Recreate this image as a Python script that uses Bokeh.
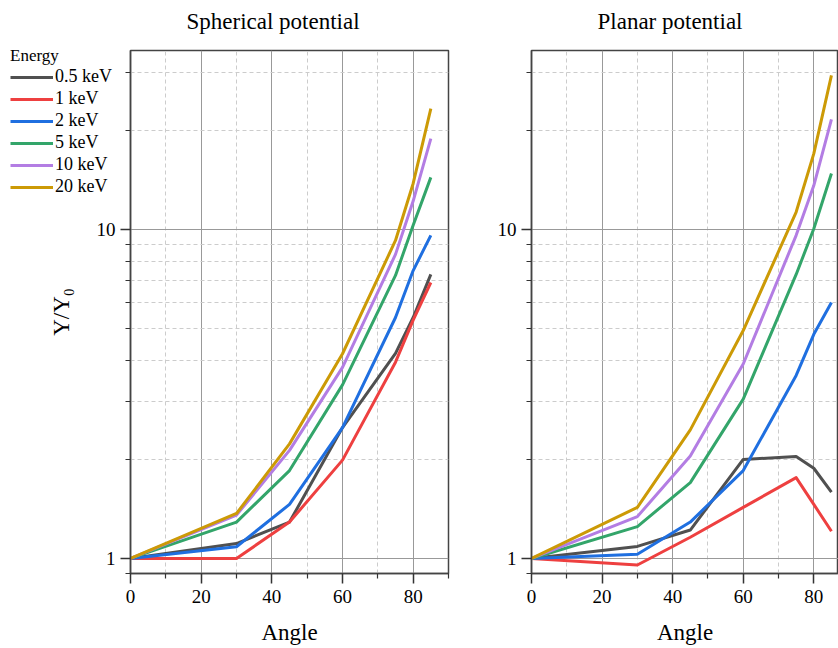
from bokeh.plotting import figure
from bokeh.layouts import column
from bokeh.models import (Range1d, FixedTicker, Legend, LegendItem, GridBox,
                          BasicTickFormatter, Title)
from bokeh.embed import file_html
from bokeh.resources import INLINE

angles = [0, 30, 45, 60, 75, 80, 85]
energies = ["0.5 keV", "1 keV", "2 keV", "5 keV", "10 keV", "20 keV"]
colors = ["#505050", "#ee4040", "#1f6fe0", "#33a56a", "#b37de3", "#cc9a06"]

spherical = {
    "0.5 keV": [1.0, 1.11, 1.29, 2.50, 4.20, 5.40, 7.30],
    "1 keV":   [1.0, 1.00, 1.29, 1.99, 3.95, 5.30, 6.90],
    "2 keV":   [1.0, 1.085, 1.46, 2.50, 5.40, 7.50, 9.60],
    "5 keV":   [1.0, 1.29, 1.85, 3.37, 7.25, 10.3, 14.4],
    "10 keV":  [1.0, 1.355, 2.13, 3.81, 8.40, 12.2, 18.9],
    "20 keV":  [1.0, 1.37, 2.23, 4.19, 9.26, 13.8, 23.3],
}
planar = {
    "0.5 keV": [1.0, 1.088, 1.22, 2.00, 2.04, 1.88, 1.59],
    "1 keV":   [1.0, 0.955, 1.16, 1.43, 1.76, 1.46, 1.21],
    "2 keV":   [1.0, 1.03, 1.29, 1.85, 3.60, 4.80, 6.00],
    "5 keV":   [1.0, 1.25, 1.70, 3.05, 7.30, 10.05, 14.8],
    "10 keV":  [1.0, 1.34, 2.05, 3.90, 9.60, 13.6, 21.6],
    "20 keV":  [1.0, 1.43, 2.46, 4.93, 11.3, 17.0, 29.4],
}

x_major = [0, 20, 40, 60, 80]
x_minor = [10, 30, 50, 70, 90]
y_major = [1, 10]
y_minor = [0.9, 2, 3, 4, 5, 6, 7, 8, 9, 20, 30]

FONT = "Liberation Serif"


def make_panel(title, title_offset, data, width, border_left, border_right,
               x_end, ylabel):
    p = figure(width=width, height=648, y_axis_type="log", title=None,
               x_range=Range1d(0, x_end), y_range=Range1d(0.9, 35),
               output_backend="svg", toolbar_location=None,
               min_border_left=border_left, min_border_right=border_right,
               min_border_top=50, min_border_bottom=75)
    # small spacer between frame and title, then the title itself
    p.add_layout(Title(text=" ", text_font_size="9px", standoff=0), "above")
    p.add_layout(Title(text=title, align="left", offset=title_offset,
                       text_font=FONT, text_font_size="23px",
                       text_font_style="normal", text_color="black"), "above")
    p.outline_line_color = "#444444"
    p.outline_line_width = 1.5

    p.xaxis.ticker = FixedTicker(ticks=x_major, minor_ticks=x_minor)
    p.yaxis.ticker = FixedTicker(ticks=y_major, minor_ticks=y_minor)
    p.yaxis.formatter = BasicTickFormatter()
    for ax in (p.xaxis, p.yaxis):
        ax.axis_line_color = "#444444"
        ax.axis_line_width = 1.5
        ax.major_tick_line_color = "#333333"
        ax.major_tick_line_width = 1.5
        ax.minor_tick_line_color = "#333333"
        ax.minor_tick_line_width = 1.2
        ax.major_tick_out = 10
        ax.major_tick_in = 0
        ax.minor_tick_out = 5
        ax.minor_tick_in = 0
        ax.major_label_text_font = FONT
        ax.major_label_text_font_size = "19px"
        ax.major_label_text_color = "black"
        ax.axis_label_text_font = FONT
        ax.axis_label_text_font_size = "23px"
        ax.axis_label_text_font_style = "normal"
        ax.axis_label_text_color = "black"
    p.xaxis.axis_label = "Angle"
    p.xaxis.major_label_standoff = 6
    p.xaxis.axis_label_standoff = 14
    p.yaxis.major_label_standoff = 5
    if ylabel:
        p.yaxis.axis_label = ylabel
        p.yaxis.axis_label_standoff = 20

    for g in (p.xgrid, p.ygrid):
        g.grid_line_color = "#999999"
        g.grid_line_width = 1
        g.minor_grid_line_color = "#cccccc"
        g.minor_grid_line_dash = "4 3"
        g.minor_grid_line_width = 1

    for e, c in zip(energies, colors):
        p.line(angles, data[e], line_color=c, line_width=3, line_join="round")
    return p


p1 = make_panel("Spherical potential", 56, spherical, 470, 130, 22, 90, "Y/Y\u2080")
p2 = make_panel("Planar potential", 66, planar, 368, 61, 0, 87, None)

# Legend lives in a transparent figure, nested in a column, laid over p1
leg = figure(width=470, height=648, output_backend="svg", toolbar_location=None,
             title=None, x_axis_location=None, y_axis_location=None,
             x_range=Range1d(1000, 1001), y_range=Range1d(1000, 1001),
             min_border_left=10, min_border_top=46, min_border_right=0,
             min_border_bottom=0)
leg.outline_line_color = None
leg.background_fill_alpha = 0
leg.border_fill_alpha = 0
leg.xgrid.visible = False
leg.ygrid.visible = False
items = []
for e, c in zip(energies, colors):
    r = leg.line(angles, spherical[e], line_color=c, line_width=3)
    items.append(LegendItem(label=e, renderers=[r]))
legend = Legend(items=items, location="top_left", title="Energy",
                border_line_color=None, background_fill_alpha=0,
                padding=0, margin=0, spacing=1,
                glyph_width=43, glyph_height=20, label_height=20,
                label_standoff=2,
                label_text_font=FONT, label_text_font_size="18px",
                label_text_color="black",
                title_text_font=FONT, title_text_font_size="17px",
                title_text_font_style="normal", title_text_color="black",
                title_standoff=0)
leg.add_layout(legend)

layout = GridBox(children=[(p1, 0, 0), (p2, 0, 1), (column(leg), 0, 0)],
                 spacing=0)
open("out.html", "w").write(file_html(layout, INLINE))
